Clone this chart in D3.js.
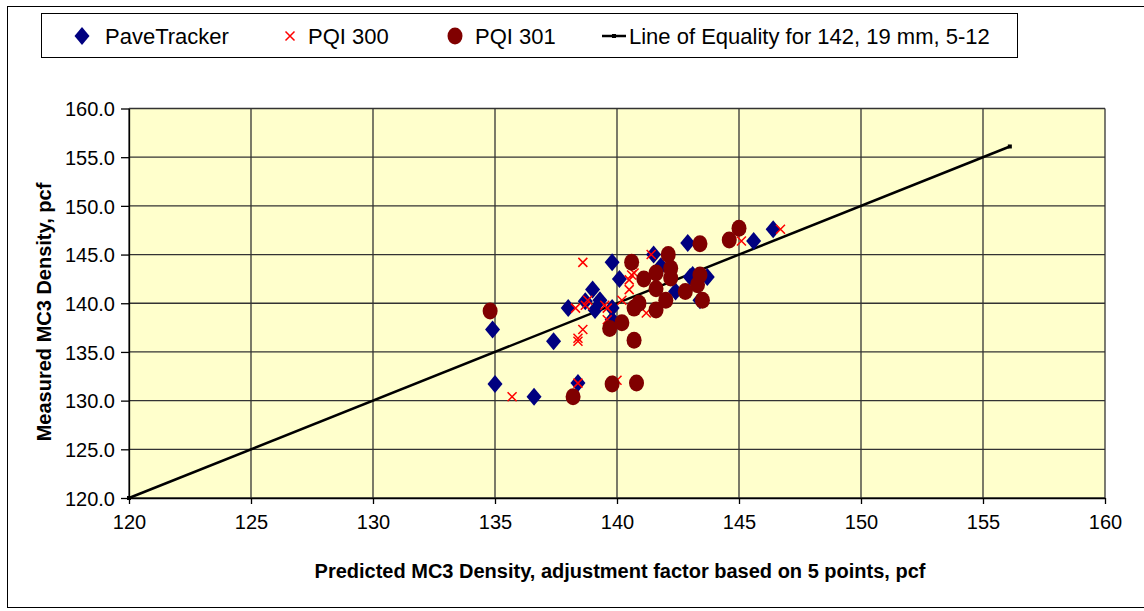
<!DOCTYPE html>
<html>
<head>
<meta charset="utf-8">
<script src="https://cdn.jsdelivr.net/npm/d3@7"></script>
<style>
  html, body { margin: 0; padding: 0; background: #ffffff; }
  svg { display: block; font-family: "Liberation Sans", Arial, sans-serif; }
</style>
</head>
<body>
<svg id="chart" width="1144" height="611"></svg>
<script>
// ---------- data ----------
const seriesNames = ["PaveTracker", "PQI 300", "PQI 301", "Line of Equality for 142, 19 mm, 5-12"];

const paveTracker = [
  [134.9,137.3],[135.0,131.7],[136.6,130.4],[137.4,136.1],[138.0,139.5],[138.4,131.8],
  [138.7,140.2],[139.0,141.4],[139.1,139.3],[139.3,140.3],[139.8,139.5],[139.8,138.3],
  [139.8,144.2],[140.1,142.5],[141.5,145.0],[141.8,143.8],[142.4,141.2],[142.9,146.2],
  [143.0,142.7],[143.1,142.9],[143.4,140.3],[143.7,142.7],[145.6,146.4],[146.4,147.6]
];

const pqi300 = [
  [135.7,130.4],[138.4,131.8],[138.4,136.1],[138.6,137.3],[138.6,144.2],[138.3,139.5],
  [138.7,139.8],[138.8,140.3],[139.5,139.8],[139.6,139.5],[139.6,138.3],[140.2,140.3],
  [140.5,141.4],[140.5,142.4],[140.6,142.9],[140.7,143.1],[141.2,139.0],[141.4,145.0],
  [145.1,146.4],[146.7,147.6],[140.0,132.1],[138.4,136.4]
];

const pqi301 = [
  [134.8,139.2],[138.2,130.4],[139.8,131.7],[140.8,131.8],[139.7,137.4],[140.2,138.0],
  [140.7,136.2],[140.6,144.2],[141.1,142.5],[140.7,139.5],[140.9,140.0],[141.6,139.3],
  [141.6,143.1],[142.1,145.0],[142.0,140.3],[142.2,143.6],[142.2,142.6],[141.6,141.5],
  [142.8,141.2],[143.4,146.1],[143.4,142.9],[143.3,141.9],[143.5,140.3],[144.6,146.5],
  [145.0,147.7]
];

const equalityLine = [[120,120],[156.1,156.1]];

const xTicks = [120,125,130,135,140,145,150,155,160];
const yTicks = [120,125,130,135,140,145,150,155,160];

const xTitle = "Predicted MC3 Density, adjustment factor based on 5 points, pcf";
const yTitle = "Measured MC3 Density, pcf";

// ---------- drawing ----------
const svg = d3.select("#chart");
const navy = "#000080", maroon = "#800000", red = "#FF0000";

// outer chart border
svg.append("rect").attr("x", 7.5).attr("y", 6.5).attr("width", 1150).attr("height", 601)
  .attr("fill", "#fff").attr("stroke", "#000").attr("stroke-width", 1);

const x = d3.scaleLinear().domain([120,160]).range([129,1105]);
const y = d3.scaleLinear().domain([120,160]).range([498,108.5]);

// plot area
svg.append("rect").attr("x", x(120)).attr("y", y(160))
  .attr("width", x(160)-x(120)).attr("height", y(120)-y(160))
  .attr("fill", "#FFFFCC");

// gridlines
const grid = svg.append("g");
grid.selectAll(".gx").data(xTicks).join("line")
  .attr("x1", d => x(d)).attr("x2", d => x(d)).attr("y1", y(120)).attr("y2", y(160))
  .attr("stroke", "#333").attr("stroke-width", 1.3);
grid.selectAll(".gy").data(yTicks).join("line")
  .attr("y1", d => y(d)).attr("y2", d => y(d)).attr("x1", x(120)).attr("x2", x(160))
  .attr("stroke", "#333").attr("stroke-width", 1.3);

// axes
const xAxis = d3.axisBottom(x).tickValues(xTicks).tickFormat(d3.format("d")).tickSize(6).tickSizeOuter(0);
const yAxis = d3.axisLeft(y).tickValues(yTicks).tickFormat(d3.format(".1f")).tickSize(8).tickSizeOuter(0);

const gx = svg.append("g").attr("transform", `translate(0,${y(120)})`).call(xAxis);
const gy = svg.append("g").attr("transform", `translate(${x(120)},0)`).call(yAxis);
[gx, gy].forEach(g => {
  g.select(".domain").attr("stroke", "#000").attr("stroke-width", 1.3);
  g.selectAll(".tick line").attr("stroke", "#000").attr("stroke-width", 1.3);
  g.selectAll(".tick text").attr("fill", "#000").attr("font-size", 20)
    .attr("font-family", "'Liberation Sans', Arial, sans-serif");
});
gx.selectAll(".tick text").attr("dy", "1.05em").attr("y", 10);
gy.selectAll(".tick text").attr("x", -14).attr("dy", "0.36em");

// axis titles
svg.append("text").attr("x", 620).attr("y", 578).attr("text-anchor", "middle")
  .attr("font-size", 20).attr("font-weight", "bold").text(xTitle);
svg.append("text").attr("transform", "translate(51,312) rotate(-90)").attr("text-anchor", "middle")
  .attr("font-size", 20).attr("font-weight", "bold").text(yTitle);

const marks = svg.append("g");

// equality line
marks.append("path").datum(equalityLine)
  .attr("d", d3.line().x(d => x(d[0])).y(d => y(d[1])))
  .attr("fill", "none").attr("stroke", "#000").attr("stroke-width", 2.5);
marks.selectAll(".eqm").data(equalityLine).join("rect")
  .attr("x", d => x(d[0]) - 2).attr("y", d => y(d[1]) - 2).attr("width", 4).attr("height", 4)
  .attr("fill", "#000");

const diamond = (cx, cy) => `M${cx},${cy-9}L${cx+7.5},${cy}L${cx},${cy+9}L${cx-7.5},${cy}Z`;
const cross = (cx, cy) => `M${cx-4.5},${cy-4.5}L${cx+4.5},${cy+4.5}M${cx+4.5},${cy-4.5}L${cx-4.5},${cy+4.5}`;

// PaveTracker diamonds
marks.selectAll(".pt").data(paveTracker).join("path")
  .attr("d", d => diamond(x(d[0]), y(d[1]))).attr("fill", navy);

// PQI 300 crosses
marks.selectAll(".p300").data(pqi300).join("path")
  .attr("d", d => cross(x(d[0]), y(d[1]))).attr("stroke", red).attr("stroke-width", 1.5).attr("fill", "none");

// PQI 301 circles
marks.selectAll(".p301").data(pqi301).join("ellipse")
  .attr("cx", d => x(d[0])).attr("cy", d => y(d[1])).attr("rx", 7.5).attr("ry", 8.5).attr("fill", maroon);

// legend
const lg = svg.append("g");
lg.append("rect").attr("x", 41.5).attr("y", 13.5).attr("width", 976).attr("height", 44)
  .attr("fill", "#fff").attr("stroke", "#000").attr("stroke-width", 1);
const ly = 36;
lg.append("path").attr("d", diamond(82, ly)).attr("fill", navy);
lg.append("path").attr("d", cross(290, ly)).attr("stroke", red).attr("stroke-width", 1.5);
lg.append("ellipse").attr("cx", 455).attr("cy", ly).attr("rx", 7.5).attr("ry", 8.5).attr("fill", maroon);
lg.append("line").attr("x1", 602).attr("x2", 626).attr("y1", ly).attr("y2", ly).attr("stroke", "#000").attr("stroke-width", 2.5);
lg.append("rect").attr("x", 612).attr("y", ly-2).attr("width", 4).attr("height", 4).attr("fill", "#000");
const legendTextX = [105, 308, 475, 629];
lg.selectAll(".lt").data(seriesNames).join("text")
  .attr("x", (d,i) => legendTextX[i]).attr("y", ly + 8).attr("font-size", 22).attr("fill", "#000")
  .text(d => d);
</script>
</body>
</html>
